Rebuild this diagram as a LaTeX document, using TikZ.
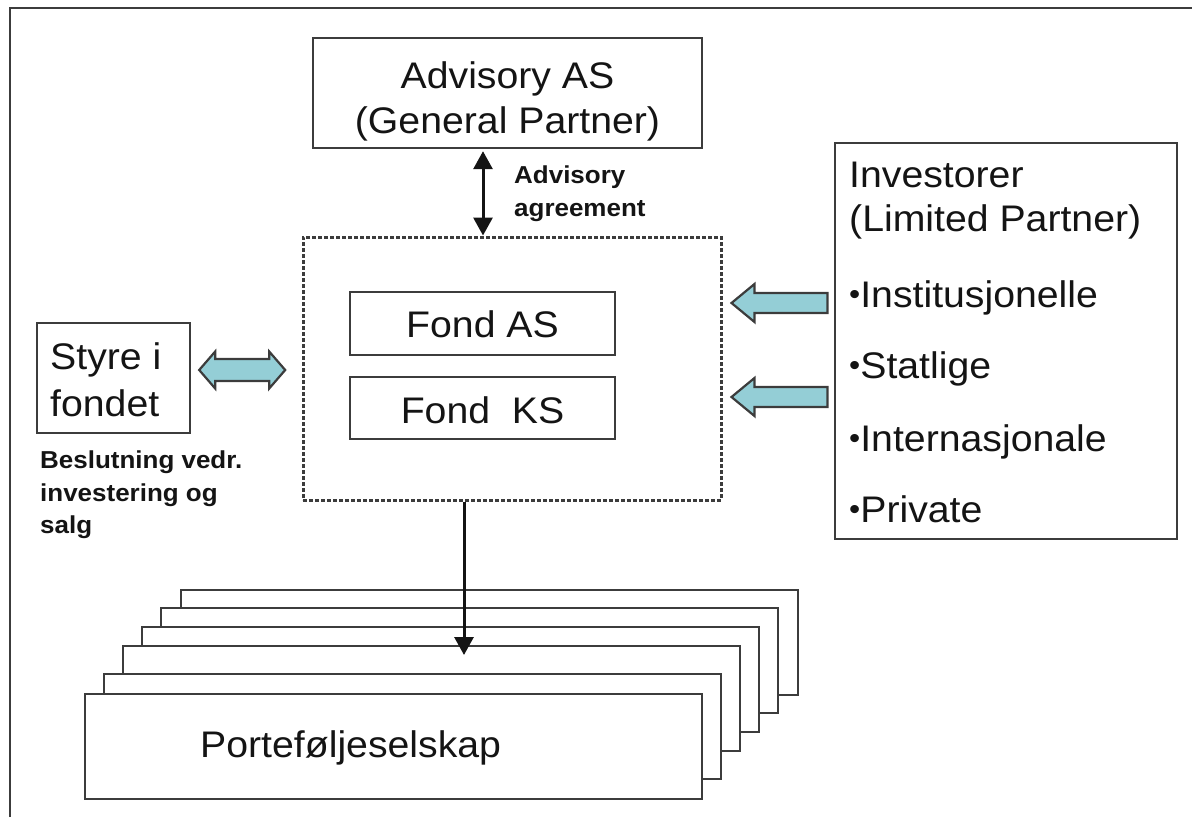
\documentclass[tikz,border=0pt]{standalone}
\usepackage{fontspec}
\setmainfont{Liberation Sans}[FakeStretch=1.06]
\usetikzlibrary{arrows.meta,calc}

\definecolor{linegray}{RGB}{60,60,60}
\definecolor{fatcyan}{RGB}{148,206,214}
\definecolor{inkblack}{RGB}{20,20,20}

\newcommand{\bigtxt}{\fontsize{37}{44}\selectfont}
\newcommand{\notetxt}{\fontsize{24.5}{30}\selectfont\bfseries}
\newcommand{\invbullet}{\raisebox{2.5pt}{\fontsize{30}{30}\selectfont•}}

\begin{document}
\begin{tikzpicture}[x=1pt,y=-1pt,
    box/.style={draw=linegray,line width=2.4pt,fill=white,inner sep=0pt},
    txt/.style={text=inkblack,inner sep=0pt,anchor=base west,font=\bigtxt},
    note/.style={text=inkblack,inner sep=0pt,anchor=base west,font=\notetxt},
    link/.style={line width=3pt,draw=inkblack,{Triangle[length=18pt,width=19pt]}-{Triangle[length=18pt,width=19pt]}},
    fat/.style={draw=linegray,line width=2.2pt,fill=fatcyan,line join=miter}]
  \useasboundingbox (0,0) rectangle (1192,817);
  % frame
  \draw[linegray,line width=2.5pt] (10,817) -- (10,8) -- (1192,8);

  % general partner
  \node[box,minimum width=389pt,minimum height=110pt] (adv) at (507.5,93) {};
  \node[txt,anchor=base] (advname) at (507.5,88) {Advisory AS};
  \node[txt,anchor=base] (advrole) at (507.5,133) {(General Partner)};

  % fund
  \node[box,line width=3pt,dash pattern=on 4pt off 2pt,minimum width=418pt,minimum height=263pt] (fund) at (512,368.5) {};
  \node[box,minimum width=265pt,minimum height=63pt] (fondas) at (482.5,323.5) {};
  \node[txt,anchor=base] (fondastxt) at (482.5,337) {Fond AS};
  \node[box,minimum width=265pt,minimum height=62pt] (fondks) at (482.5,408) {};
  \node[txt,anchor=base] (fondkstxt) at (482.5,423) {Fond\ \ KS};

  % board
  \node[box,minimum width=153pt,minimum height=110pt] (styre) at (113.5,378) {};
  \node[txt] (styre1) at (50,369) {Styre i};
  \node[txt] (styre2) at (50,416) {fondet};
  \foreach \y/\t [count=\i] in {468/Beslutning vedr.,501/investering og,533/salg}
    \node[note] (decide\i) at (40,\y) {\t};

  % investors
  \node[box,minimum width=342pt,minimum height=396pt] (inv) at (1006,341) {};
  \foreach \y/\t [count=\i] in {187/Investorer,231/(Limited Partner),307/\invbullet Institusjonelle,378/\invbullet Statlige,451/\invbullet Internasjonale,522/\invbullet Private}
    \node[txt] (invline\i) at (849,\y) {\t};

  % portfolio companies
  \foreach \x/\y [count=\i] in {180/589,160/607,141/626,122/645,103/673}
    \node[box,anchor=north west,minimum width=617pt,minimum height=105pt] (page\i) at (\x,\y) {};
  \node[box,anchor=north west,minimum width=617pt,minimum height=105pt] (port) at (84,693) {};
  \node[txt] (porttxt) at (200,757) {Porteføljeselskap};

  % connectors
  \coordinate (agr) at (483,0);
  \draw[link] ($(adv.south -| agr)+(0,2)$) -- (fund.north -| agr);
  \node[note] (agr1) at (514,183) {Advisory};
  \node[note] (agr2) at (514,216) {agreement};

  \coordinate (drop) at (464,655);
  \draw[line width=3pt,draw=inkblack,-{Triangle[length=18pt,width=19pt]}] (fund.south -| drop) -- (drop);

  \coordinate (boardtip) at ($(styre.east)+(8,-8)$);
  \draw[fat] (boardtip) -- ++(16,-18.5) -- ++(0,7.5) -- ++(54,0) -- ++(0,-7.5) -- ++(16,18.5)
    -- ++(-16,18.5) -- ++(0,-7.5) -- ++(-54,0) -- ++(0,7.5) -- cycle;
  \foreach \n/\dy in {1/-65.5,2/28.5} {
    \coordinate (intip\n) at ($(fund.east)+(9,\dy)$);
    \draw[fat] (intip\n) -- ++(23,-19) -- ++(0,9) -- ++(73,0) -- ++(0,20) -- ++(-73,0) -- ++(0,9) -- cycle;
  }
\end{tikzpicture}
\end{document}
